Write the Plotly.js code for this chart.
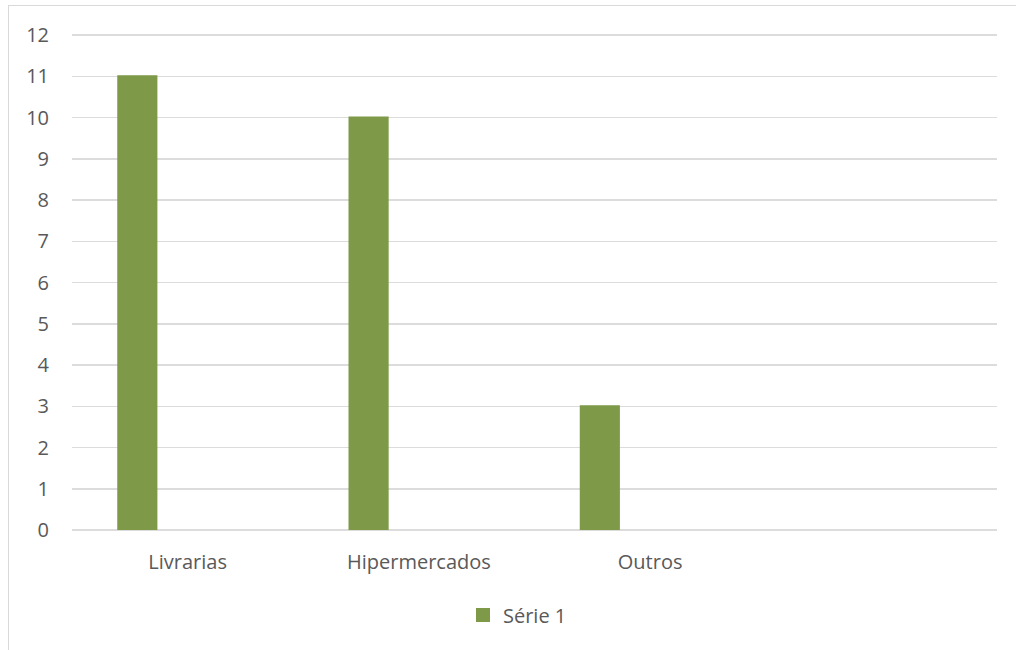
<!DOCTYPE html>
<html>
<head>
<meta charset="utf-8">
<script src="https://cdn.plot.ly/plotly-3.0.1.min.js"></script>
<style>html,body{margin:0;padding:0;background:#fff;}#chart{width:1016px;height:650px;}</style>
</head>
<body>
<div id="chart"></div>
<script>
const categories = ["Livrarias", "Hipermercados", "Outros"];
const serie1 = [11, 10, 3];
const seriesName = "Série 1";
const yTicks = [0,1,2,3,4,5,6,7,8,9,10,11,12];

const textColor = "#595959";
const fontFamily = "Open Sans, sans-serif";
const fontSize = 20;

const trace = {
  type: "bar",
  x: categories,
  y: serie1,
  name: seriesName,
  marker: {color: "#7e9a48", line: {color: "#7e9a48", width: 2}},
  width: 0.165,
  offset: -0.300,
  hoverinfo: "x+y"
};

const W = 1016, H = 650, L = 72, R = 19, T = 34, B = 120;
const pw = W - L - R, ph = H - T - B;
const px = v => (v - L) / pw;
const py = v => (H - B - v) / ph;

const layout = {
  width: W, height: H,
  margin: {l: L, r: R, t: T, b: B, pad: 0},
  paper_bgcolor: "#fff",
  plot_bgcolor: "#fff",
  font: {family: fontFamily, size: fontSize, color: textColor},
  showlegend: true,
  legend: {
    orientation: "h", x: 0.4816, xanchor: "center", y: py(615), yanchor: "middle",
    font: {family: fontFamily, size: fontSize, color: textColor}
  },
  xaxis: {
    type: "category",
    range: [-0.5, 3.5],
    showgrid: false,
    showline: false,
    zeroline: false,
    ticks: "",
    ticklabelstandoff: 18,
    tickfont: {family: fontFamily, size: fontSize, color: textColor},
    fixedrange: true
  },
  yaxis: {
    range: [0, 12.025],
    tickvals: yTicks,
    ticktext: yTicks.map(String),
    showgrid: true,
    gridcolor: "#dcdcdc",
    gridwidth: 1.5,
    zeroline: true,
    zerolinecolor: "#dcdcdc",
    zerolinewidth: 1.5,
    showline: false,
    ticks: "",
    ticklabelstandoff: 22,
    tickfont: {family: fontFamily, size: fontSize, color: textColor},
    fixedrange: true
  },
  shapes: [
    {type: "line", xref: "paper", yref: "paper", x0: px(8), x1: px(1016), y0: py(5.5), y1: py(5.5), line: {color: "#d9d9d9", width: 1}},
    {type: "line", xref: "paper", yref: "paper", x0: px(8.5), x1: px(8.5), y0: py(5), y1: py(650), line: {color: "#d9d9d9", width: 1}}
  ]
};

Plotly.newPlot("chart", [trace], layout, {displayModeBar: false, staticPlot: true});
</script>
</body>
</html>
